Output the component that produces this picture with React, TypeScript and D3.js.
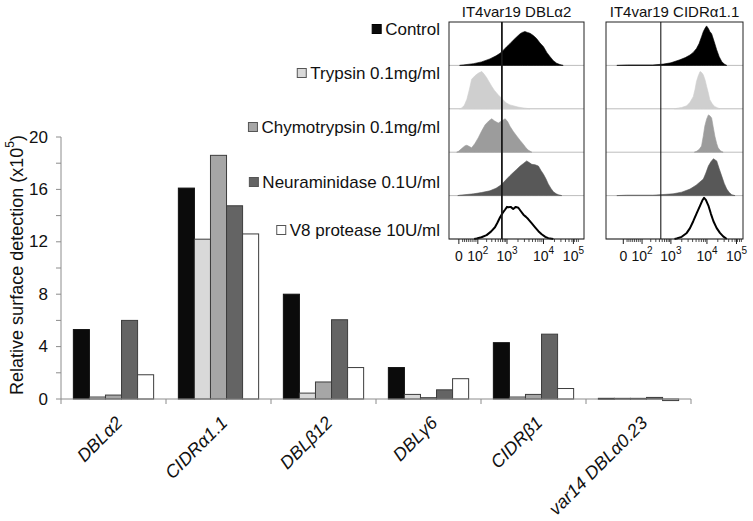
import React, { useLayoutEffect, useRef, useState } from "react";
import * as d3 from "d3";

// ---------- Bar chart data ----------
const categories = ["DBLα2", "CIDRα1.1", "DBLβ12", "DBLγ6", "CIDRβ1", "var14 DBLα0.23"];
const seriesNames = [
  "Control",
  "Trypsin 0.1mg/ml",
  "Chymotrypsin 0.1mg/ml",
  "Neuraminidase 0.1U/ml",
  "V8 protease 10U/ml",
];
const controlValues = [5.3, 16.1, 8.0, 2.4, 4.3, 0.05];
const trypsinValues = [0.15, 12.2, 0.45, 0.35, 0.15, 0.05];
const chymotrypsinValues = [0.3, 18.6, 1.3, 0.1, 0.35, 0.05];
const neuraminidaseValues = [6.0, 14.75, 6.05, 0.7, 4.95, 0.12];
const v8Values = [1.85, 12.6, 2.4, 1.55, 0.8, -0.12];
const yTicks = [0, 4, 8, 12, 16, 20];
const yMinorTicks = [2, 6, 10, 14, 18];
const yAxisTitle = "Relative surface detection (x10";

// ---------- Flow histogram data (display units ~ log10 fluorescence, % of row height) ----------
const panelTitles = ["IT4var19 DBLα2", "IT4var19 CIDRα1.1"];
const flowTickBase = ["0", "10", "10", "10", "10"];
const flowTickSup = ["", "2", "3", "4", "5"];
const flowTickValues = [1.68, 2.2, 3, 4, 4.82];
const cutoffs = [2.86, 2.72];

const dblControl: [number, number][] = [[1.7,0],[1.8,1],[2.08,4],[2.3,8],[2.53,15],[2.7,22],[2.81,28],[2.9,35],[2.99,43],[3.08,50],[3.17,58],[3.27,66],[3.36,73],[3.42,76],[3.49,78],[3.56,76],[3.63,74],[3.72,69],[3.81,62],[3.9,52],[4.0,43],[4.09,30],[4.18,20],[4.27,11],[4.36,5],[4.45,2],[4.54,0]];
const dblTrypsin: [number, number][] = [[1.7,0],[1.76,2],[1.83,8],[1.9,22],[1.97,45],[2.03,68],[2.12,76],[2.21,82],[2.26,84],[2.31,86],[2.37,80],[2.44,72],[2.51,62],[2.58,52],[2.65,43],[2.72,36],[2.78,30],[2.85,25],[2.92,18],[2.99,13],[3.08,9],[3.17,7],[3.3,4],[3.45,2],[3.63,0]];
const dblChymo: [number, number][] = [[1.62,0],[1.67,2],[1.78,10],[1.85,15],[1.9,16],[1.97,13],[2.03,10],[2.12,20],[2.21,33],[2.3,48],[2.4,63],[2.5,72],[2.58,77],[2.66,72],[2.76,67],[2.85,72],[2.95,77],[3.02,70],[3.08,60],[3.17,48],[3.27,37],[3.36,27],[3.45,18],[3.52,10],[3.58,5],[3.68,0]];
const dblNeur: [number, number][] = [[1.65,0],[1.71,1],[2.08,4],[2.3,7],[2.53,11],[2.7,17],[2.81,23],[2.9,30],[2.99,38],[3.08,46],[3.17,53],[3.27,61],[3.36,68],[3.45,74],[3.54,80],[3.61,76],[3.68,72],[3.77,71],[3.86,68],[3.93,58],[4.0,49],[4.07,38],[4.13,27],[4.2,17],[4.27,9],[4.35,4],[4.41,2],[4.5,0]];
const dblV8: [number, number][] = [[2.1,0],[2.17,1],[2.3,4],[2.44,9],[2.56,17],[2.67,27],[2.74,38],[2.81,50],[2.88,60],[2.95,68],[3.0,74],[3.04,73],[3.1,74],[3.17,69],[3.24,74],[3.31,72],[3.38,64],[3.45,56],[3.52,51],[3.58,46],[3.68,36],[3.77,27],[3.86,18],[3.95,11],[4.05,5],[4.13,2],[4.27,0]];

const cidrControl: [number, number][] = [[1.5,0],[1.8,1],[2.5,1],[2.79,3],[3.0,6],[3.25,13],[3.4,18],[3.53,24],[3.62,30],[3.71,39],[3.78,50],[3.85,66],[3.9,78],[3.95,86],[3.99,91],[4.04,85],[4.08,78],[4.13,73],[4.2,55],[4.27,36],[4.34,20],[4.41,9],[4.48,3],[4.55,0]];
const cidrTrypsin: [number, number][] = [[3.1,0],[3.16,1],[3.3,3],[3.44,7],[3.53,15],[3.62,28],[3.67,45],[3.71,63],[3.76,76],[3.81,86],[3.86,83],[3.9,78],[3.95,66],[3.99,52],[4.04,36],[4.08,21],[4.15,11],[4.22,5],[4.3,2],[4.36,0]];
const cidrChymo: [number, number][] = [[3.65,0],[3.71,2],[3.78,6],[3.85,14],[3.9,38],[3.94,60],[3.99,76],[4.04,86],[4.08,84],[4.13,79],[4.17,60],[4.22,37],[4.27,20],[4.31,10],[4.38,3],[4.45,0]];
const cidrNeur: [number, number][] = [[1.5,0],[1.77,1],[2.5,1],[3.06,4],[3.3,8],[3.53,15],[3.7,24],[3.9,38],[3.97,52],[4.04,68],[4.11,78],[4.18,85],[4.23,82],[4.27,80],[4.34,62],[4.41,45],[4.48,28],[4.55,15],[4.62,7],[4.69,2],[4.78,0]];
const cidrV8: [number, number][] = [[3.1,0],[3.16,1],[3.3,5],[3.44,14],[3.53,25],[3.62,41],[3.72,60],[3.81,77],[3.88,90],[3.92,95],[3.97,90],[4.04,77],[4.11,58],[4.18,41],[4.27,25],[4.36,14],[4.45,6],[4.55,0]];

// ---------- Styles ----------
const FONT = "'Liberation Sans', Arial, Helvetica, sans-serif";
const barFills = ["#0b0b0b", "#d9d9d9", "#a6a6a6", "#646464", "#ffffff"];
const histFills = ["#000000", "#cfcfcf", "#9c9c9c", "#585858", "none"];
const legendY = [29, 73, 127, 182, 230];

export default function App() {
  const W = 753, H = 521;
  const seriesValues = [controlValues, trypsinValues, chymotrypsinValues, neuraminidaseValues, v8Values];

  // bar chart scales
  const x0 = d3.scaleBand<string>().domain(categories).range([61, 691]).padding(0);
  const x1 = d3.scaleBand<number>().domain(d3.range(seriesNames.length)).range([0, x0.bandwidth()]).paddingInner(0).paddingOuter(0.77);
  const y = d3.scaleLinear().domain([0, 20]).range([399, 137]);

  // flow panels
  const panels = [
    { x: d3.scaleLinear().domain([1.41, 5.11]).range([449, 584]), hists: [dblControl, dblTrypsin, dblChymo, dblNeur, dblV8], cut: cutoffs[0], cutW: 1.8 },
    { x: d3.scaleLinear().domain([1.2, 5.0]).range([606, 743]), hists: [cidrControl, cidrTrypsin, cidrChymo, cidrNeur, cidrV8], cut: cutoffs[1], cutW: 1.1 },
  ];
  const top = 22, bottom = 239;
  const rowH = (bottom - top) / 5;

  // minor ticks for the flow axis (display units)
  const minorMult = d3.range(2, 10);
  const minorTicks: number[] = [];
  minorMult.forEach((m) => {
    minorTicks.push(1.68 + (2.2 - 1.68) * (m / 10));
    minorTicks.push(2.2 + 0.8 * Math.log10(m));
    minorTicks.push(3 + Math.log10(m));
    minorTicks.push(4 + Math.log10(m));
  });

  // legend measurement
  const textRefs = useRef<(SVGTextElement | null)[]>([]);
  const [widths, setWidths] = useState<number[]>(seriesNames.map((s) => s.length * 8));
  useLayoutEffect(() => {
    const w = textRefs.current.map((t) => (t ? t.getComputedTextLength() : 0));
    setWidths(w);
  }, []);

  return (
    <svg width={W} height={H} style={{ position: "absolute", left: 0, top: 0, background: "#fff" }} fontFamily={FONT}>
      <rect x={0} y={0} width={W} height={H} fill="#fff" />

      {/* Y axis */}
      <line x1={61} x2={61} y1={y(20)} y2={y(0)} stroke="#8c8c8c" strokeWidth={1} />
      {[...yTicks, ...yMinorTicks].map((t) => (
        <line key={"yt" + t} x1={56} x2={61} y1={y(t)} y2={y(t)} stroke="#8c8c8c" />
      ))}
      {yTicks.map((t) => (
        <text key={"yl" + t} x={48} y={y(t)} textAnchor="end" dominantBaseline="central" fontSize={17} fill="#111">
          {t}
        </text>
      ))}
      <text transform={`translate(17,${(y(0) + y(20)) / 2 - 3}) rotate(-90)`} textAnchor="middle" dominantBaseline="central" fontSize={18} fill="#111">
        <tspan>{yAxisTitle}</tspan>
        <tspan dy={-7} fontSize={12}>5</tspan>
        <tspan dy={7}>)</tspan>
      </text>

      {/* Bars */}
      {categories.map((c, ci) => (
        <g key={c} transform={`translate(${x0(c)},0)`}>
          {seriesValues.map((vals, si) => {
            const v = vals[ci];
            const yy = Math.min(y(v), y(0));
            const hh = Math.abs(y(v) - y(0));
            return (
              <rect
                key={si}
                x={x1(si)}
                y={yy}
                width={x1.bandwidth()}
                height={Math.max(hh, 0.8)}
                fill={barFills[si]}
                stroke={si === 0 ? "#111" : "#3c3c3c"}
                strokeWidth={1}
              />
            );
          })}
        </g>
      ))}

      {/* X axis */}
      <line x1={61} x2={691} y1={y(0)} y2={y(0)} stroke="#8c8c8c" strokeWidth={1} />
      {[...categories.map((c) => x0(c) as number), 691].map((xv, i) => (
        <line key={"xt" + i} x1={xv} x2={xv} y1={y(0)} y2={y(0) + 5} stroke="#8c8c8c" />
      ))}
      {categories.map((c) => {
        const cx = (x0(c) as number) + x0.bandwidth() / 2 + 10;
        return (
          <text key={"xl" + c} transform={`translate(${cx},424) rotate(-45)`} textAnchor="end" fontSize={18} fontStyle="italic" fill="#111">
            {c}
          </text>
        );
      })}

      {/* Legend */}
      {seriesNames.map((s, i) => (
        <g key={"lg" + i}>
          <text
            ref={(el) => { textRefs.current[i] = el; }}
            x={440}
            y={legendY[i]}
            textAnchor="end"
            dominantBaseline="central"
            fontSize={17}
            fill="#111"
          >
            {s}
          </text>
          <rect
            x={440 - widths[i] - 13}
            y={legendY[i] - 4.5}
            width={9}
            height={9}
            fill={barFills[i]}
            stroke={i === 0 ? "#000" : "#555"}
            strokeWidth={1}
          />
        </g>
      ))}

      {/* Flow panels */}
      {panels.map((p, pi) => {
        const [l, r] = p.x.range();
        return (
          <g key={"panel" + pi}>
            <text x={(l + r) / 2} y={17} textAnchor="middle" fontSize={15} fill="#111">
              {panelTitles[pi]}
            </text>
            {p.hists.map((h, ri) => {
              const rb = top + rowH * (ri + 1);
              const ys = d3.scaleLinear().domain([0, 100]).range([rb, rb - rowH]);
              const area = d3.area<[number, number]>().x((d) => p.x(d[0])).y0(rb).y1((d) => ys(d[1])).curve(d3.curveLinear);
              const line = d3.line<[number, number]>().x((d) => p.x(d[0])).y((d) => ys(d[1])).curve(d3.curveLinear);
              return (
                <g key={"h" + ri}>
                  <line x1={l} x2={r} y1={rb} y2={rb} stroke="#bdbdbd" strokeWidth={1} />
                  {histFills[ri] !== "none" ? (
                    <path d={area(h) || ""} fill={histFills[ri]} stroke={histFills[ri]} strokeWidth={0.6} />
                  ) : (
                    <path d={line(h) || ""} fill="none" stroke="#000" strokeWidth={2} strokeLinejoin="round" />
                  )}
                </g>
              );
            })}
            <rect x={l} y={top} width={r - l} height={bottom - top} fill="none" stroke="#222" strokeWidth={1} />
            <line x1={p.x(p.cut)} x2={p.x(p.cut)} y1={top} y2={bottom} stroke="#1a1a1a" strokeWidth={p.cutW} />
            {minorTicks.filter((t) => p.x(t) > l + 1 && p.x(t) < r - 1).map((t, i) => (
              <line key={"mt" + i} x1={p.x(t)} x2={p.x(t)} y1={bottom} y2={bottom + 3} stroke="#222" strokeWidth={0.8} />
            ))}
            {flowTickValues.map((t, i) => (
              <line key={"Mt" + i} x1={p.x(t)} x2={p.x(t)} y1={bottom} y2={bottom + 5} stroke="#222" strokeWidth={1} />
            ))}
            {flowTickValues.map((t, i) => (
              <text key={"fl" + i} x={p.x(t)} y={261} textAnchor="middle" fontSize={14} fill="#111">
                <tspan>{flowTickBase[i]}</tspan>
                {flowTickSup[i] ? (
                  <tspan dy={-7} fontSize={10}>{flowTickSup[i]}</tspan>
                ) : null}
              </text>
            ))}
          </g>
        );
      })}
    </svg>
  );
}
